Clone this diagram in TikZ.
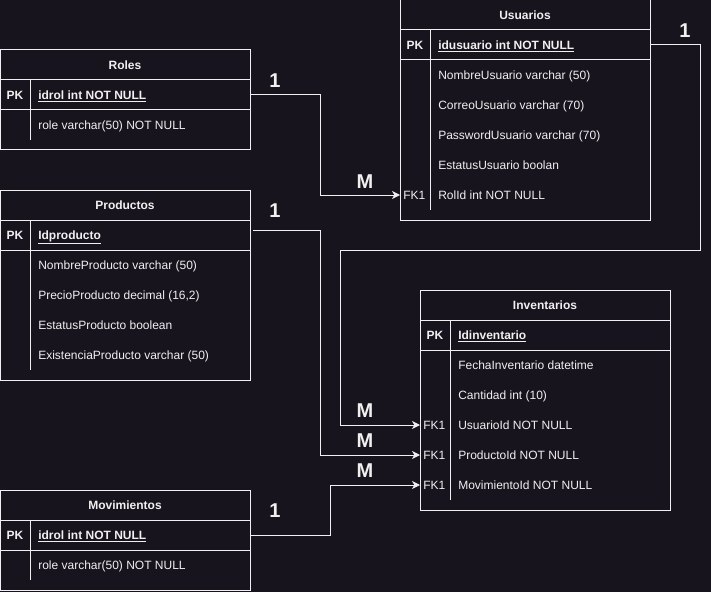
\documentclass[tikz,border=0pt]{standalone}
\usepackage{fontspec}
\setmainfont{Liberation Sans}
\usetikzlibrary{arrows.meta}
\definecolor{bg}{HTML}{18141D}
\definecolor{fg}{HTML}{F0F0F0}
\begin{document}
\begin{tikzpicture}[x=0.75pt,y=-0.75pt,
  tbl/.style={draw=fg,line width=0.75pt},
  ttl/.style={text=fg,font=\fontsize{9}{11}\selectfont\bfseries,inner sep=0pt,anchor=base,yshift=-3.3pt},
  pkl/.style={text=fg,font=\fontsize{9}{11}\selectfont\bfseries,inner sep=0pt,anchor=base,yshift=-3.3pt},
  fld/.style={text=fg,font=\fontsize{9}{11}\selectfont,anchor=base west,inner sep=0pt,yshift=-3.3pt},
  pkf/.style={text=fg,font=\fontsize{9}{11}\selectfont\bfseries,anchor=base west,inner sep=0pt,yshift=-3.3pt},
  card/.style={text=fg,font=\fontsize{15}{18}\selectfont\bfseries,inner sep=0pt,anchor=base,yshift=-5.4pt},
  conn/.style={draw=fg,line width=0.75pt,-{Stealth[length=6pt,width=6pt,inset=1.8pt]}},
  link/.style={draw=fg,line width=0.75pt}]
\fill[bg] (0,0) rectangle (711,592);
\useasboundingbox (0,0) rectangle (711,592);

% ---------- Roles ----------
\draw[tbl] (0,50) rectangle (250,150);
\draw[tbl] (0,80) -- (250,80) (0,110) -- (250,110) (30,80) -- (30,140);
\node[ttl] (rolesT) at (125,65) {Roles};
\node[pkl] (rolesK) at (15,95) {PK};
\node[pkf] (rolesPK) at (38,95) {\underline{idrol int NOT NULL}};
\node[fld] (rolesF1) at (38,125) {role varchar(50) NOT NULL};
\coordinate (rolesOut) at (250,95);

% ---------- Usuarios ----------
\draw[tbl] (400,0) rectangle (650,220);
\draw[tbl] (400,30) -- (650,30) (400,60) -- (650,60) (430,30) -- (430,210);
\node[ttl] (usuT) at (525,15) {Usuarios};
\node[pkl] (usuK) at (415,45) {PK};
\node[pkf] (usuPK) at (438,45) {\underline{idusuario int NOT NULL}};
\node[fld] (usuF1) at (438,75) {NombreUsuario varchar (50)};
\node[fld] (usuF2) at (438,105) {CorreoUsuario varchar (70)};
\node[fld] (usuF3) at (438,135) {PasswordUsuario varchar (70)};
\node[fld] (usuF4) at (438,165) {EstatusUsuario boolan};
\node[fld] (usuFK) at (403,195) {FK1};
\node[fld] (usuF5) at (438,195) {RolId int NOT NULL};
\coordinate (usuIn) at (400,195);
\coordinate (usuOut) at (650,45);

% ---------- Productos ----------
\draw[tbl] (0,190) rectangle (250,380);
\draw[tbl] (0,220) -- (250,220) (0,250) -- (250,250) (30,220) -- (30,370);
\node[ttl] (prodT) at (125,205) {Productos};
\node[pkl] (prodK) at (15,235) {PK};
\node[pkf] (prodPK) at (38,235) {\underline{Idproducto}};
\node[fld] (prodF1) at (38,265) {NombreProducto varchar (50)};
\node[fld] (prodF2) at (38,295) {PrecioProducto decimal (16,2)};
\node[fld] (prodF3) at (38,325) {EstatusProducto boolean};
\node[fld] (prodF4) at (38,355) {ExistenciaProducto varchar (50)};
\coordinate (prodOut) at (253,230);

% ---------- Inventarios ----------
\draw[tbl] (420,290) rectangle (670,510);
\draw[tbl] (420,320) -- (670,320) (420,350) -- (670,350) (450,320) -- (450,500);
\node[ttl] (invT) at (545,305) {Inventarios};
\node[pkl] (invK) at (435,335) {PK};
\node[pkf] (invPK) at (458,335) {\underline{Idinventario}};
\node[fld] (invF1) at (458,365) {FechaInventario datetime};
\node[fld] (invF2) at (458,395) {Cantidad int (10)};
\node[fld] (invFK1) at (423,425) {FK1};
\node[fld] (invF3) at (458,425) {UsuarioId NOT NULL};
\node[fld] (invFK2) at (423,455) {FK1};
\node[fld] (invF4) at (458,455) {ProductoId NOT NULL};
\node[fld] (invFK3) at (423,485) {FK1};
\node[fld] (invF5) at (458,485) {MovimientoId NOT NULL};
\coordinate (invUsu) at (420,425);
\coordinate (invProd) at (420,455);
\coordinate (invMov) at (420,485);

% ---------- Movimientos ----------
\draw[tbl] (0,490) rectangle (250,590);
\draw[tbl] (0,520) -- (250,520) (0,550) -- (250,550) (30,520) -- (30,580);
\node[ttl] (movT) at (125,505) {Movimientos};
\node[pkl] (movK) at (15,535) {PK};
\node[pkf] (movPK) at (38,535) {\underline{idrol int NOT NULL}};
\node[fld] (movF1) at (38,565) {role varchar(50) NOT NULL};
\coordinate (movOut) at (250,535);

% ---------- Connectors ----------
\draw[conn] (rolesOut) -- ++(70,0) |- (usuIn);
\draw[conn] (usuOut) -- ++(50,0) |- (340,250) |- (invUsu);
\draw[conn] (prodOut) -- ++(67,0) |- (invProd);
\draw[conn] (movOut) -- ++(80,0) |- (invMov);

% ---------- Cardinalities ----------
\node[card] (c1) at (275,80) {1};
\node[card] (c2) at (365,181) {M};
\node[card] (c3) at (685,30) {1};
\node[card] (c4) at (365,410) {M};
\node[card] (c5) at (275,210) {1};
\node[card] (c6) at (365,440) {M};
\node[card] (c7) at (275,510) {1};
\node[card] (c8) at (365,470) {M};
\end{tikzpicture}
\end{document}
